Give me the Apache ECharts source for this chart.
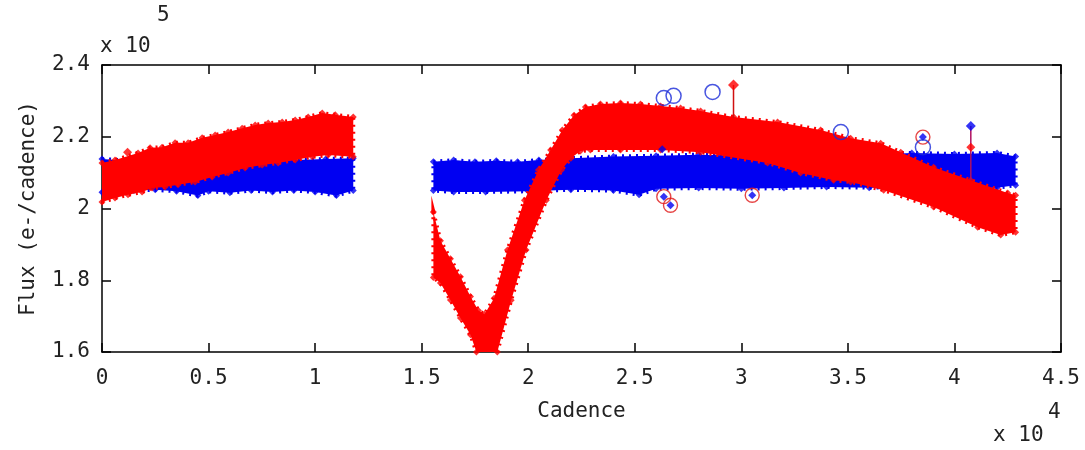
<!DOCTYPE html>
<html>
<head>
<meta charset="utf-8">
<script src="https://cdn.jsdelivr.net/npm/echarts@6/dist/echarts.min.js"></script>
<style>
  html, body { margin: 0; padding: 0; background: #ffffff; }
  #chart { width: 1085px; height: 450px; }
</style>
</head>
<body>
<div id="chart"></div>
<script>
// Cadence number on x; flux in units of 1e5 e-/cadence on y.

// Blue light curve: upper and lower envelope of the point cloud, left to right
const blueTopA = [[0,2.138],[1500,2.132],[3000,2.130],[4500,2.128],[6000,2.130],[7500,2.132],[9000,2.135],[10500,2.138],[11790,2.140]];
const blueBotA = [[0,2.045],[1500,2.050],[2500,2.052],[3500,2.048],[4500,2.036],[5000,2.048],[6000,2.044],[7000,2.050],[8000,2.046],[9000,2.050],[10000,2.046],[11000,2.036],[11790,2.050]];
const blueTopB = [[15550,2.130],[16500,2.135],[17500,2.130],[18500,2.133],[19500,2.130],[20500,2.135],[22000,2.140],[24000,2.145],[26000,2.147],[28000,2.150],[30000,2.148],[32000,2.150],[34000,2.152],[36000,2.150],[38000,2.155],[40000,2.152],[42000,2.155],[42870,2.145]];
const blueBotB = [[15550,2.050],[16500,2.046],[18000,2.046],[20000,2.048],[22000,2.052],[24000,2.050],[25200,2.038],[26000,2.055],[28000,2.057],[30000,2.055],[32000,2.057],[34000,2.060],[36000,2.058],[38000,2.060],[40000,2.055],[42000,2.058],[42870,2.065]];

// Red light curve envelopes
const redTopA = [[0,2.127],[611,2.135],[1691,2.155],[2255,2.169],[2818,2.171],[3429,2.183],[4040,2.183],[4697,2.197],[5308,2.205],[5919,2.213],[6576,2.224],[7187,2.233],[7798,2.238],[8455,2.241],[9066,2.247],[9676,2.255],[10334,2.266],[10945,2.261],[11790,2.255]];
const redBotA = [[0,2.018],[611,2.029],[1221,2.038],[1879,2.046],[2349,2.057],[2959,2.060],[3570,2.066],[4368,2.074],[5167,2.088],[5919,2.099],[6717,2.113],[7516,2.121],[8267,2.127],[9066,2.135],[9864,2.144],[10616,2.149],[11790,2.144]];
const redTopB = [[15550,1.990],[15880,1.910],[16350,1.860],[16820,1.810],[17290,1.755],[17660,1.716],[17950,1.705],[18400,1.750],[19025,1.884],[19823,2.023],[20480,2.107],[21050,2.163],[21600,2.219],[22150,2.260],[22686,2.283],[23390,2.291],[24330,2.294],[25270,2.291],[26210,2.286],[27150,2.280],[28090,2.272],[29640,2.255],[31700,2.241],[33720,2.219],[35130,2.196],[36540,2.182],[37480,2.157],[39020,2.115],[40760,2.079],[42500,2.043],[42870,2.037]];
const redBotB = [[15550,1.808],[15880,1.792],[16350,1.745],[16820,1.695],[17290,1.648],[17570,1.600],[18550,1.600],[19200,1.744],[19900,1.884],[20850,2.023],[21560,2.107],[22000,2.140],[22450,2.160],[22920,2.163],[24330,2.163],[26210,2.163],[28090,2.157],[31230,2.127],[32780,2.099],[34330,2.079],[35130,2.074],[36680,2.051],[39020,2.004],[41090,1.948],[42170,1.926],[42870,1.934]];

// Individual flagged points
const redLone = [[1200,2.157]];
const blueOpen = [[26362,2.308],[26820,2.314],[28650,2.325],[34670,2.213],[38520,2.171]];
const redOpen = [[26362,2.033],[26676,2.009],[30511,2.037],[38520,2.199]];
const blueInRed = [[26362,2.033],[26676,2.009],[30511,2.037],[38520,2.199],[26290,2.165]];
const redSpike = [[29633,2.344],[29633,2.252]];
const blueSpike = [[40768,2.230],[40768,2.080]];
const redOnBlueSpike = [[40768,2.171]];

const xTickStep = 5000;
const yTickStep = 0.2;

const FONT = 'DejaVu Sans Mono';
const TXT = '#222222';
const RED = '#ff0000';
const BLUE = '#0000f2';

function outline(top, bot) {
  return top.concat(bot.slice().reverse());
}

// A filled envelope with a slightly ragged rim, plus a diamond at every envelope point
function bandSeries(top, bot, color, z) {
  const pts = outline(top, bot);
  return [{
    type: 'custom',
    clip: true,
    silent: true,
    z: z,
    data: [0],
    renderItem: function (params, api) {
      return {
        type: 'polygon',
        shape: { points: pts.map(function (p) { return api.coord(p); }) },
        style: { fill: color, stroke: color, lineWidth: 4, lineDash: [2, 5] }
      };
    }
  }, {
    type: 'scatter',
    silent: true,
    z: z,
    symbol: 'diamond',
    symbolSize: 7,
    data: pts,
    itemStyle: { color: color }
  }];
}

const axisLine = { show: true, onZero: false, lineStyle: { color: '#000', width: 1.5 } };
const axisTick = { show: true, inside: true, length: 9, lineStyle: { color: '#000', width: 1.5 } };
const fmtX = function (v) { return String(parseFloat((v / 10000).toFixed(2))); };
const fmtY = function (v) { return String(parseFloat(v.toFixed(2))); };

const chart = echarts.init(document.getElementById('chart'), null, { renderer: 'canvas' });

chart.setOption({
  animation: false,
  backgroundColor: '#ffffff',
  grid: { left: 102, right: 24, top: 65, bottom: 98, containLabel: false },
  xAxis: [{
    type: 'value', min: 0, max: 45000, interval: xTickStep, position: 'bottom',
    axisLine: axisLine, axisTick: axisTick, splitLine: { show: false },
    axisLabel: { formatter: fmtX, margin: 16, fontFamily: FONT, fontSize: 21, color: TXT },
    name: 'Cadence', nameLocation: 'middle', nameGap: 49,
    nameTextStyle: { fontFamily: FONT, fontSize: 21, color: TXT }
  }, {
    type: 'value', min: 0, max: 45000, interval: xTickStep, position: 'top',
    axisLine: axisLine, axisTick: axisTick, splitLine: { show: false },
    axisLabel: { show: false }
  }],
  yAxis: [{
    type: 'value', min: 1.6, max: 2.4, interval: yTickStep, position: 'left',
    axisLine: axisLine, axisTick: axisTick, splitLine: { show: false },
    axisLabel: { formatter: fmtY, margin: 12, fontFamily: FONT, fontSize: 21, color: TXT },
    name: 'Flux (e-/cadence)', nameLocation: 'middle', nameGap: 63, nameRotate: 90,
    nameTextStyle: { fontFamily: FONT, fontSize: 21, color: TXT }
  }, {
    type: 'value', min: 1.6, max: 2.4, interval: yTickStep, position: 'right',
    axisLine: axisLine, axisTick: axisTick, splitLine: { show: false },
    axisLabel: { show: false }
  }],
  graphic: [
    { type: 'text', left: 100, top: 36, style: { text: 'x 10', font: '21px "DejaVu Sans Mono"', fill: TXT } },
    { type: 'text', left: 157, top: 5, style: { text: '5', font: '21px "DejaVu Sans Mono"', fill: TXT } },
    { type: 'text', left: 993, top: 425, style: { text: 'x 10', font: '21px "DejaVu Sans Mono"', fill: TXT } },
    { type: 'text', left: 1048, top: 402, style: { text: '4', font: '21px "DejaVu Sans Mono"', fill: TXT } }
  ],
  series: [].concat(
    bandSeries(blueTopA, blueBotA, BLUE, 1),
    bandSeries(blueTopB, blueBotB, BLUE, 1),
    bandSeries(redTopA, redBotA, RED, 2),
    bandSeries(redTopB, redBotB, RED, 2),
    [
      { type: 'scatter', z: 5, symbol: 'diamond', symbolSize: 9, data: redLone, itemStyle: { color: RED } },
      { type: 'line', z: 5, data: redSpike, symbol: 'none', lineStyle: { color: '#d01010', width: 1.5 } },
      { type: 'scatter', z: 5, symbol: 'diamond', symbolSize: 11, data: [redSpike[0]], itemStyle: { color: RED } },
      { type: 'line', z: 5, data: blueSpike, symbol: 'none', lineStyle: { color: '#b01060', width: 1.5 } },
      { type: 'scatter', z: 5, symbol: 'diamond', symbolSize: 10, data: [blueSpike[0]], itemStyle: { color: BLUE } },
      { type: 'scatter', z: 5, symbol: 'diamond', symbolSize: 9, data: redOnBlueSpike, itemStyle: { color: RED } },
      { type: 'scatter', z: 5, symbol: 'diamond', symbolSize: 8, data: blueInRed, itemStyle: { color: BLUE } },
      { type: 'scatter', z: 6, symbol: 'circle', symbolSize: 14, data: redOpen,
        itemStyle: { color: 'rgba(0,0,0,0)', borderColor: '#e01818', borderWidth: 1.4 } },
      { type: 'scatter', z: 6, symbol: 'circle', symbolSize: 15, data: blueOpen,
        itemStyle: { color: 'rgba(0,0,0,0)', borderColor: '#1a2ad8', borderWidth: 1.5 } }
    ]
  )
});
</script>
</body>
</html>
